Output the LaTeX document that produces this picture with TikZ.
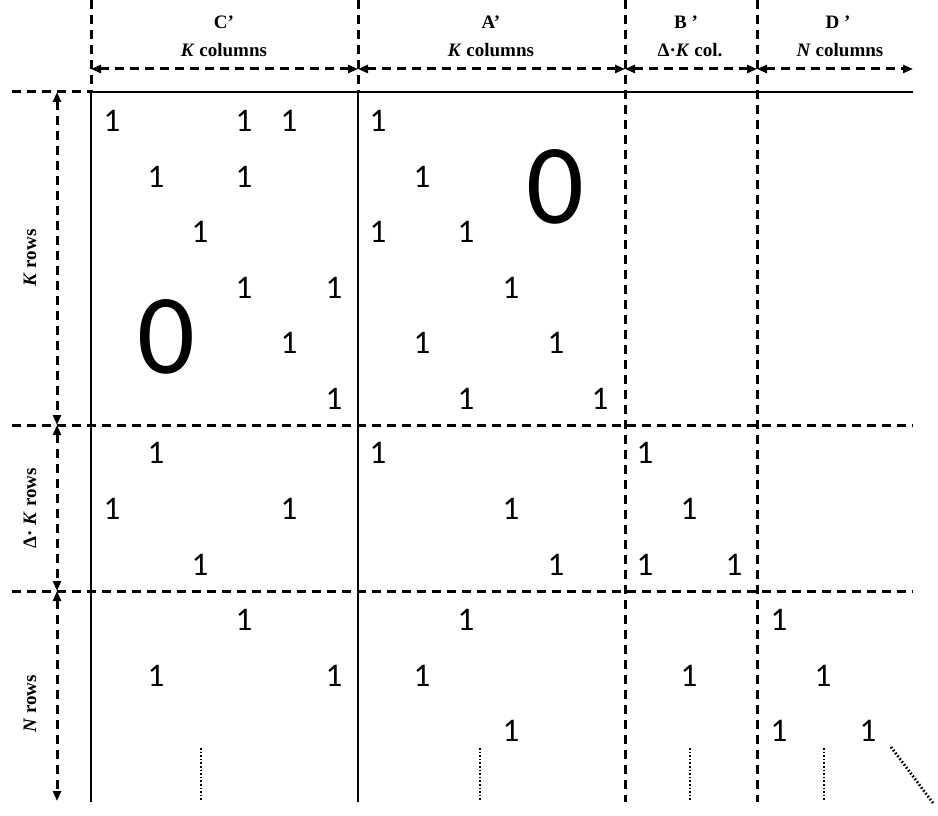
\documentclass[tikz,border=0pt]{standalone}
\usepackage{fontspec}
\setmainfont{Liberation Serif}
\newfontfamily\calib{Carlito}
\usetikzlibrary{arrows.meta}
\begin{document}
\begin{tikzpicture}[x=1pt,y=-1pt,
  solidline/.style={line width=2.7pt},
  dashline/.style={line width=3pt, dash pattern=on 9pt off 6pt},
  dimarrow/.style={dashline, {Triangle[length=10pt,width=8pt]}-{Triangle[length=10pt,width=8pt]}},
  dotline/.style={line width=2.8pt, dash pattern=on 1.6pt off 2pt},
  one/.style={inner sep=0pt, font=\calib\fontsize{33}{33}\selectfont},
  zero/.style={inner sep=0pt, font=\calib\fontsize{114}{114}\selectfont},
  head/.style={inner sep=0pt, font=\bfseries\fontsize{19}{19}\selectfont},
  side/.style={inner sep=0pt, rotate=90, font=\bfseries\fontsize{19}{19}\selectfont}]
\useasboundingbox (0,0) rectangle (938,816);
% grid coordinates
\coordinate (cT) at (91,0);  \coordinate (cH) at (91,92);  \coordinate (cB) at (91,802);
\coordinate (aT) at (358,0); \coordinate (aH) at (358,92); \coordinate (aB) at (358,802);
\coordinate (bT) at (625,0); \coordinate (bB) at (625,802);
\coordinate (dT) at (757,0); \coordinate (dB) at (757,802);
\coordinate (lH) at (12,92); \coordinate (eH) at (913,92);
\coordinate (l1) at (12,425); \coordinate (e1) at (913,425);
\coordinate (l2) at (12,591); \coordinate (e2) at (913,591);
% verticals
\draw[dashline] (cT) -- (cH);
\draw[solidline] (cH) -- (cB);
\draw[dashline] (aT) -- (aH);
\draw[solidline] (aH) -- (aB);
\draw[dashline] (bT) -- (bB);
\draw[dashline] (dT) -- (dB);
% horizontals
\draw[dashline] (lH) -- (cH);
\draw[solidline] (cH) -- (eH);
\draw[dashline] (l1) -- (e1);
\draw[dashline] (l2) -- (e2);
% header dimension arrows
\coordinate (h0) at (91,69); \coordinate (h1) at (358,69);
\coordinate (h2) at (625,69); \coordinate (h3) at (757,69);
\coordinate (h4) at (913,69);
\draw[dimarrow] (h0) -- (h1);
\draw[dimarrow] (h1) -- (h2);
\draw[dimarrow] (h2) -- (h3);
\draw[dimarrow] (h3) -- (h4);
% side dimension arrows
\coordinate (v0) at (57,92); \coordinate (v1) at (57,425);
\coordinate (v2) at (57,591); \coordinate (v3) at (57,801);
\draw[dimarrow] (v0) -- (v1);
\draw[dimarrow] (v1) -- (v2);
\draw[dimarrow] (v2) -- (v3);
% header labels
\node[head] (cname) at (224,22) {C’};
\node[head] (ccols) at (224,50) {\textit{K} columns};
\node[head] (aname) at (491,22) {A’};
\node[head] (acols) at (491,50) {\textit{K} columns};
\node[head] (bname) at (686,22) {B ’};
\node[head] (bcols) at (690,50) {Δ·\textit{K} col.};
\node[head] (dname) at (838,22) {D ’};
\node[head] (dcols) at (840,50) {\textit{N} columns};
% side labels
\node[side] (krows) at (30,258) {\textit{K} rows};
\node[side] (dkrows) at (30,508) {Δ· \textit{K} rows};
\node[side] (nrows) at (30,704) {\textit{N} rows};
% ones
\foreach \x/\y [count=\i] in {
  112/121,244/121,289/121,156/177,244/177,200/232,244/288,334/288,289/343,334/399,
  156/453,112/509,289/509,200/565,244/620,156/676,334/676,
  378/121,422/177,378/232,466/232,511/288,422/343,556/343,466/399,600/399,
  378/453,511/509,556/565,466/620,422/676,511/731,
  645/453,689/509,645/565,734/565,689/676,
  779/620,823/676,779/731,868/731}
  \node[one] (one\i) at (\x,\y) {1};
% zeros
\node[zero] (zeroC) at (166,337) {0};
\node[zero] (zeroA) at (555,187) {0};
% continuation dots
\coordinate (p1a) at (201,748); \coordinate (p1b) at (201,800);
\coordinate (p2a) at (480,748); \coordinate (p2b) at (480,800);
\coordinate (p3a) at (690,748); \coordinate (p3b) at (690,800);
\coordinate (p4a) at (824,748); \coordinate (p4b) at (824,800);
\coordinate (p5a) at (891,747); \coordinate (p5b) at (933,803);
\draw[dotline] (p1a) -- (p1b);
\draw[dotline] (p2a) -- (p2b);
\draw[dotline] (p3a) -- (p3b);
\draw[dotline] (p4a) -- (p4b);
\draw[dotline] (p5a) -- (p5b);
\end{tikzpicture}
\end{document}
